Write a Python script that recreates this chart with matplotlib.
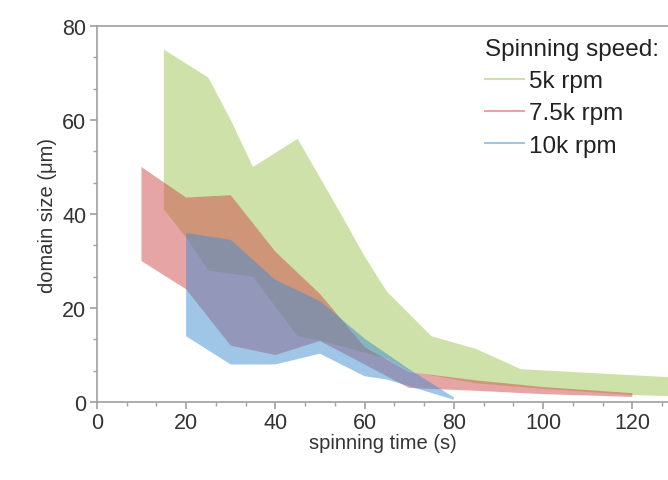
import numpy as np
import matplotlib
matplotlib.use('Agg')
import matplotlib.pyplot as plt
from matplotlib.lines import Line2D
from matplotlib.ticker import MultipleLocator, AutoMinorLocator

plt.rcParams['font.family'] = ['Liberation Sans', 'DejaVu Sans']

# band edges (spinning time s, domain size um)
speeds = ['5k rpm', '7.5k rpm', '10k rpm']

x_5k_up = [15, 25, 30, 35, 45, 55, 60, 65, 75, 85, 95, 130]
y_5k_up = [75, 69, 60, 50, 56, 39.5, 31, 23.5, 14, 11.3, 7, 5.2]
x_5k_lo = [15, 20, 25, 35, 45, 50, 65, 70, 85, 100, 120, 130]
y_5k_lo = [41, 35, 28, 26.6, 14, 13.1, 9.2, 6.5, 4, 2.8, 1.5, 1.2]

x_75k_up = [10, 20, 30, 40, 50, 60, 70, 85, 100, 120]
y_75k_up = [50, 43.5, 44, 32, 23, 11.7, 6.4, 4.6, 3.2, 1.9]
x_75k_lo = [10, 20, 30, 40, 50, 60, 70, 85, 100, 120]
y_75k_lo = [30, 24, 12, 10, 13, 8, 3, 2.4, 1.7, 1.1]

x_10k_up = [20, 30, 40, 50, 60, 70, 80]
y_10k_up = [36, 34.5, 26, 21.5, 13.5, 7, 1]
x_10k_lo = [20, 30, 40, 50, 60, 65, 80]
y_10k_lo = [14, 8, 8, 10.3, 5.5, 4.8, 0.5]

colors = ['#9dc555', '#d14b4b', '#418dd1']
bands = [(x_5k_up, y_5k_up, x_5k_lo, y_5k_lo),
         (x_75k_up, y_75k_up, x_75k_lo, y_75k_lo),
         (x_10k_up, y_10k_up, x_10k_lo, y_10k_lo)]

fig = plt.figure(figsize=(6.68, 4.81), dpi=100)
ax = fig.add_axes([0.145, 0.162, 0.855, 0.782])

for (xu, yu, xl, yl), c in zip(bands, colors):
    xs = np.r_[xu, xl[::-1]]
    ys = np.r_[yu, yl[::-1]]
    ax.fill(xs, ys, color=c, alpha=0.5, lw=0)

ax.set_xlim(0, 128)
ax.set_ylim(0, 80)
ax.xaxis.set_major_locator(MultipleLocator(20))
ax.yaxis.set_major_locator(MultipleLocator(20))
ax.xaxis.set_minor_locator(AutoMinorLocator(3))
ax.yaxis.set_minor_locator(AutoMinorLocator(3))

for s in ['left', 'bottom', 'top']:
    ax.spines[s].set_color('#a0a0a0')
    ax.spines[s].set_linewidth(1.2)
ax.spines['right'].set_visible(False)
ax.tick_params(which='both', direction='out', color='#a0a0a0', labelcolor='#333333', labelsize=15.5)
ax.tick_params(which='major', length=5, width=1.2, pad=2.5)
ax.tick_params(which='minor', length=3, width=1)

ax.set_xlabel('spinning time (s)', fontsize=14.5, color='#333333', labelpad=0)
ax.set_ylabel('domain size (\u03bcm)', fontsize=14.5, color='#333333', labelpad=4)

handles = [Line2D([], [], color=c, alpha=0.5, lw=1.5) for c in colors]
leg = ax.legend(handles, speeds, title='Spinning speed:', loc='upper left',
                bbox_to_anchor=(0.68, 0.968), frameon=False, fontsize=17.5,
                title_fontsize=17.5, handlelength=1.6, handletextpad=0.2,
                labelspacing=0.42, borderaxespad=0, borderpad=0, alignment='left')
for t in leg.get_texts():
    t.set_color('#222222')
leg.get_title().set_color('#222222')

fig.savefig('out.png', dpi=100)
